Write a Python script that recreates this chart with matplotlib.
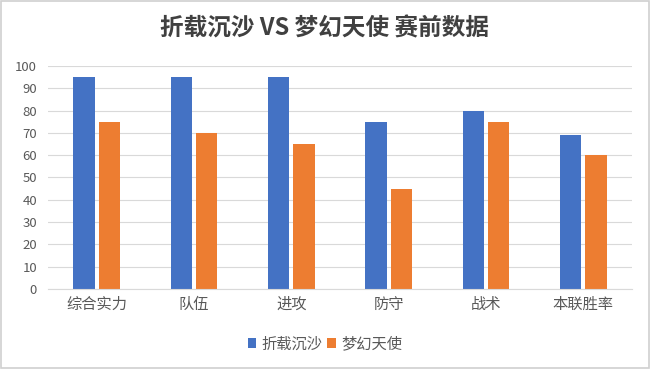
import numpy as np
import matplotlib
matplotlib.use('Agg')
import matplotlib.pyplot as plt
from matplotlib.patches import Rectangle

plt.rcParams['font.family'] = ['Noto Sans CJK SC', 'DejaVu Sans']

categories = ['综合实力', '队伍', '进攻', '防守', '战术', '本联胜率']
team_a = [95, 95, 95, 75, 80, 69]
team_b = [75, 70, 65, 45, 75, 60]
series_names = ['折载沉沙', '梦幻天使']
title = '折载沉沙 VS 梦幻天使 赛前数据'

fig = plt.figure(figsize=(6.5, 3.69), dpi=100)
ax = fig.add_axes([0.074, 0.217, 0.898, 0.604])

x = np.arange(len(categories))
width = 0.22
gap = 0.02
b1 = ax.bar(x - width / 2 - gap, team_a, width, color='#4472C4', label=series_names[0])
b2 = ax.bar(x + width / 2 + gap, team_b, width, color='#ED7D31', label=series_names[1])

ax.set_ylim(0, 100)
ax.set_xlim(-0.5, len(categories) - 0.5)
ax.set_yticks(range(0, 101, 10))
ax.set_xticks(x)
ax.set_xticklabels(categories, fontsize=11)
ax.tick_params(axis='both', length=0, colors='#595959')
ax.tick_params(axis='y', labelsize=9.5, pad=8)
ax.tick_params(axis='x', pad=5)
ax.grid(axis='y', color='#D9D9D9', linewidth=0.8)
ax.set_axisbelow(True)
for s in ['top', 'right', 'left']:
    ax.spines[s].set_visible(False)
ax.spines['bottom'].set_color('#D9D9D9')

fig.text(0.5, 0.924, title, ha='center', va='center', fontsize=17,
         fontweight='bold', color='#404040')

fig.legend(handles=[b1, b2], loc='center', bbox_to_anchor=(0.5, 0.068), ncol=2,
           frameon=False, fontsize=11, labelcolor='#595959', handlelength=0.55,
           handleheight=0.55, handletextpad=0.35, columnspacing=0.3)

fig.patches.append(Rectangle((0.002, 0.003), 0.996, 0.994, transform=fig.transFigure,
                             fill=False, edgecolor='#D0D0D0', linewidth=1.2))

fig.savefig('out.png', dpi=100)
